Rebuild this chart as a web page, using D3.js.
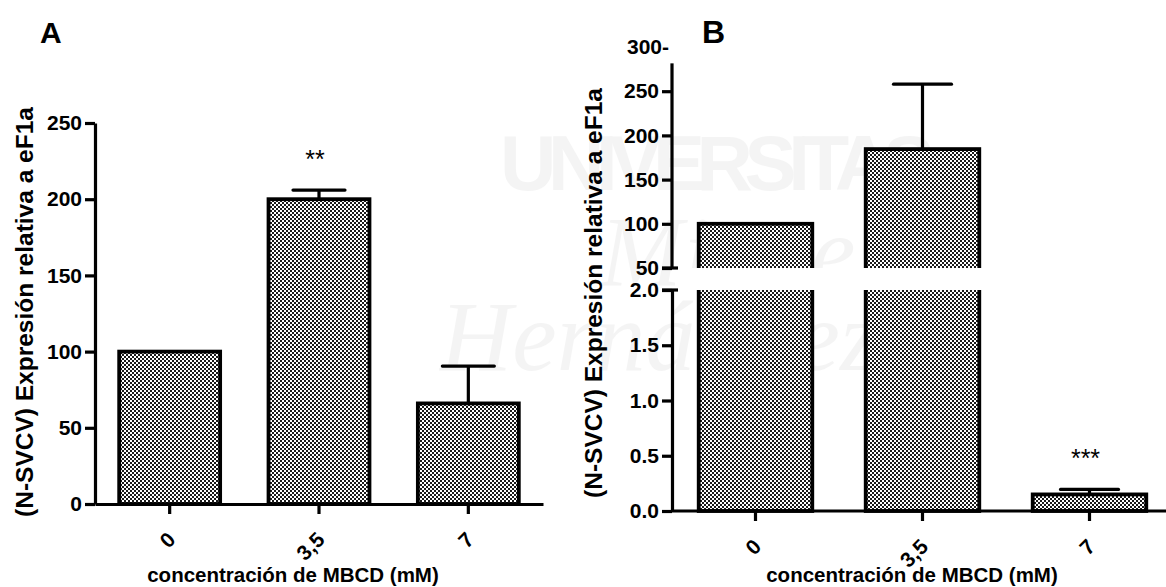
<!DOCTYPE html>
<html>
<head>
<meta charset="utf-8">
<script src="https://cdn.jsdelivr.net/npm/d3@7"></script>
<style>
body {
    margin: 0;
    background: #fff;
}
text {
    font-family: "Liberation Sans", Arial, sans-serif;
}
</style>
</head>
<body>
<svg id="canvas" width="1166" height="587">
    <defs>
        <pattern id="checker" width="4" height="4" patternUnits="userSpaceOnUse">
            <rect width="4" height="4" fill="#fff"></rect>
            <rect width="2" height="2" fill="#1a1a1a"></rect>
            <rect x="2" y="2" width="2" height="2" fill="#1a1a1a"></rect>
        </pattern>
    </defs>
</svg>
<script>
// data
const categories = ['0', '3,5', '7'];

const valuesA = [100, 200, 66];
const errorsA = [0, 6, 24.5];
const starsA = ['', '**', ''];
const ticksA = [0, 50, 100, 150, 200, 250];

const valuesB = [100, 184.5, 0.15];
const errorsB = [0, 73.5, 0.045];
const starsB = ['', '', '***'];
const ticksBTop = [50, 100, 150, 200, 250];
const ticksBBottom = [0, 0.5, 1.0, 1.5, 2.0];
const axisTopB = 281.5;   // upper segment axis line stops here
const labelTopB = 300;    // the lone "300-" label above it

const yTitle = '(N-SVCV) Expresión relativa a eF1a';
const xTitle = 'concentración de MBCD (mM)';

const svg = d3.select('svg#canvas');
const STROKE = 3.2;
const TICK_FONT = 'bold 21px "Liberation Sans", Arial, sans-serif';

// faint watermark in the background
const wm = svg.append('g').attr('fill', '#000').attr('opacity', 0.04);
wm.append('text').attr('x', 500).attr('y', 190)
    .style('font', 'bold 78px "Liberation Sans", Arial, sans-serif')
    .attr('textLength', 435).text('UNIVERSITAS');
wm.append('text').attr('x', 600).attr('y', 285)
    .style('font', 'italic 100px "Liberation Serif", serif').text('Miguel');
wm.append('text').attr('x', 440).attr('y', 370)
    .style('font', 'italic 100px "Liberation Serif", serif').text('Hernández');

function styleAxis(g) {
    g.selectAll('path.domain').attr('stroke', '#000').attr('stroke-width', STROKE);
    g.selectAll('.tick line').attr('stroke', '#000').attr('stroke-width', STROKE);
    g.selectAll('.tick text').attr('fill', '#000').style('font', TICK_FONT);
}

function xAxis(g, x, y0) {
    g.attr('transform', `translate(0,${y0})`)
        .call(d3.axisBottom(x).tickSize(10).tickSizeOuter(0))
        .call(styleAxis);
    g.selectAll('.tick text')
        .attr('text-anchor', 'end')
        .attr('dy', null)
        .attr('y', 0)
        .attr('transform', 'translate(7,37) rotate(-45)');
}

function errorBars(g, x, y, values, errors, capHalf) {
    const eb = g.append('g').attr('stroke', '#000').attr('stroke-width', STROKE);
    values.forEach((v, i) => {
        if (!errors[i]) return;
        const cx = x(categories[i]) + x.bandwidth() / 2;
        eb.append('line').attr('x1', cx).attr('x2', cx)
            .attr('y1', y(v)).attr('y2', y(v + errors[i]));
        eb.append('line').attr('x1', cx - capHalf).attr('x2', cx + capHalf)
            .attr('y1', y(v + errors[i])).attr('y2', y(v + errors[i]))
            .attr('stroke-linecap', 'round');
    });
}

function stars(g, x, y, values, errors, marks, dy) {
    g.selectAll('text.star').data(marks).join('text')
        .attr('class', 'star')
        .attr('x', (d, i) => x(categories[i]) + x.bandwidth() / 2 - 4)
        .attr('y', (d, i) => y(values[i] + errors[i]) - dy)
        .attr('text-anchor', 'middle')
        .style('font', '25px "Liberation Sans", Arial, sans-serif')
        .text(d => d);
}

// ---------- panel A ----------
const xA = d3.scaleBand().domain(categories).range([95, 543])
    .paddingInner(0.324).paddingOuter(0.162);
const yA = d3.scaleLinear().domain([0, 250]).range([504, 123]);
const gA = svg.append('g');

errorBars(gA, xA, yA, valuesA, errorsA, 26);

gA.selectAll('rect.bar').data(valuesA).join('rect')
    .attr('class', 'bar')
    .attr('x', (d, i) => xA(categories[i]))
    .attr('y', d => yA(d))
    .attr('width', xA.bandwidth())
    .attr('height', d => yA(0) - yA(d))
    .attr('fill', 'url(#checker)')
    .attr('stroke', '#000')
    .attr('stroke-width', STROKE + 0.6);

stars(gA, xA, yA, valuesA, errorsA, starsA, 22);

gA.append('g').attr('transform', 'translate(95,0)')
    .call(d3.axisLeft(yA).tickValues(ticksA).tickSize(10).tickSizeOuter(0).tickPadding(3))
    .call(styleAxis);
gA.append('g').call(g => xAxis(g, xA, 504));

gA.append('text').attr('x', 40).attr('y', 43)
    .style('font', 'bold 30px "Liberation Sans", Arial, sans-serif').text('A');
gA.append('text')
    .attr('transform', 'translate(33,312) rotate(-90)')
    .attr('text-anchor', 'middle')
    .style('font', 'bold 24.5px "Liberation Sans", Arial, sans-serif')
    .text(yTitle);
gA.append('text').attr('x', 293).attr('y', 582).attr('text-anchor', 'middle')
    .style('font', 'bold 20.5px "Liberation Sans", Arial, sans-serif')
    .text(xTitle);

// ---------- panel B (broken y axis) ----------
const xB = d3.scaleBand().domain(categories).range([672, 1173])
    .paddingInner(0.32).paddingOuter(0.16);
const yTop = d3.scaleLinear().domain([50, 300]).range([268, 47]);
const yBot = d3.scaleLinear().domain([0, 2]).range([511, 290]);
const gB = svg.append('g');

errorBars(gB, xB, yTop, valuesB.map(v => v > 2 ? v : NaN), errorsB.map((e, i) => valuesB[i] > 2 ? e : 0), 29);
errorBars(gB, xB, yBot, valuesB.map(v => v <= 2 ? v : NaN), errorsB.map((e, i) => valuesB[i] <= 2 ? e : 0), 29);

// upper part of the tall bars
gB.selectAll('rect.top').data(valuesB.filter(v => v > 2)).join('rect')
    .attr('class', 'top')
    .attr('x', d => xB(categories[valuesB.indexOf(d)]))
    .attr('y', d => yTop(d))
    .attr('width', xB.bandwidth())
    .attr('height', d => yTop(50) - yTop(d) + 20)
    .attr('fill', 'url(#checker)')
    .attr('stroke', '#000')
    .attr('stroke-width', STROKE + 0.6);

// lower part
gB.selectAll('rect.bot').data(valuesB).join('rect')
    .attr('class', 'bot')
    .attr('x', (d, i) => xB(categories[i]))
    .attr('y', d => d > 2 ? yBot(2) - 20 : yBot(d))
    .attr('width', xB.bandwidth())
    .attr('height', d => yBot(0) - (d > 2 ? yBot(2) - 20 : yBot(d)))
    .attr('fill', 'url(#checker)')
    .attr('stroke', '#000')
    .attr('stroke-width', STROKE + 0.6);

// gap between the two segments
gB.append('rect')
    .attr('x', 675).attr('y', yTop(50))
    .attr('width', 1166 - 675).attr('height', yBot(2) - yTop(50))
    .attr('fill', '#fff');

stars(gB, xB, yBot, valuesB, errorsB, starsB, 22);

const axTop = gB.append('g').attr('transform', 'translate(672,0)')
    .call(d3.axisLeft(yTop).tickValues(ticksBTop).tickSize(10).tickSizeOuter(0).tickPadding(3))
    .call(styleAxis);
axTop.select('path.domain').remove();
axTop.append('line')
    .attr('y1', yTop(50)).attr('y2', yTop(axisTopB))
    .attr('stroke', '#000').attr('stroke-width', STROKE);
axTop.append('line')
    .attr('x1', -10).attr('x2', 6).attr('y1', yTop(50)).attr('y2', yTop(50))
    .attr('stroke', '#000').attr('stroke-width', STROKE);
axTop.append('text')
    .attr('x', -3).attr('y', yTop(labelTopB)).attr('dy', '0.32em')
    .attr('text-anchor', 'end')
    .attr('fill', '#000')
    .style('font', TICK_FONT)
    .text(labelTopB + '-');

const axBot = gB.append('g').attr('transform', 'translate(672,0)')
    .call(d3.axisLeft(yBot).tickValues(ticksBBottom).tickFormat(d3.format('.1f'))
        .tickSize(10).tickSizeOuter(0).tickPadding(3))
    .call(styleAxis);
axBot.append('line')
    .attr('x1', -10).attr('x2', 6).attr('y1', yBot(2)).attr('y2', yBot(2))
    .attr('stroke', '#000').attr('stroke-width', STROKE);

const axXB = gB.append('g').call(g => xAxis(g, xB, 511));
axXB.select('path.domain').attr('d', `M672,0H1166`);

gB.append('text').attr('x', 702).attr('y', 43)
    .style('font', 'bold 32px "Liberation Sans", Arial, sans-serif').text('B');
gB.append('text')
    .attr('transform', 'translate(602,293) rotate(-90)')
    .attr('text-anchor', 'middle')
    .style('font', 'bold 24.5px "Liberation Sans", Arial, sans-serif')
    .text(yTitle);
gB.append('text').attr('x', 912).attr('y', 582).attr('text-anchor', 'middle')
    .style('font', 'bold 20.5px "Liberation Sans", Arial, sans-serif')
    .text(xTitle);
</script>
</body>
</html>
